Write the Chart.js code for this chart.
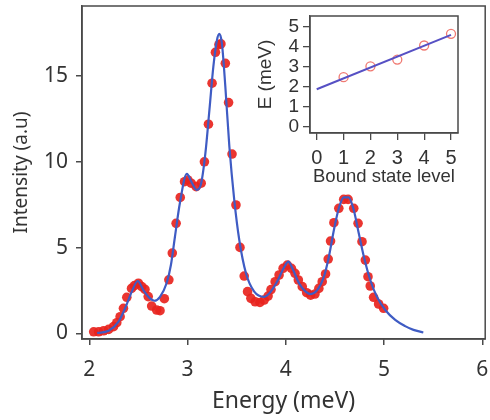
<!DOCTYPE html>
<html>
<head>
<meta charset="utf-8">
<script src="https://cdn.jsdelivr.net/npm/chart.js@4.4.1/dist/chart.umd.min.js"></script>
<style>
  body { margin: 0; background: #fff; }
  #wrap { position: relative; width: 490px; height: 420px; }
  #main { position: absolute; left: 0; top: 0; }
  #inset { position: absolute; left: 250px; top: 0; }
</style>
</head>
<body>
<div id="wrap">
  <canvas id="main" width="490" height="420"></canvas>
  <canvas id="inset" width="240" height="195"></canvas>
</div>
<script>
// measured spectrum (red dots)
const dotEnergy = [
  2.045, 2.095, 2.146, 2.197, 2.247, 2.28, 2.314, 2.348, 2.382, 2.43, 2.46, 2.50,
  2.534, 2.567, 2.60, 2.635, 2.686, 2.72, 2.764, 2.81, 2.845, 2.884, 2.926, 2.97,
  3.003, 3.037, 3.088, 3.139, 3.172, 3.213, 3.25, 3.284, 3.32, 3.34, 3.385, 3.418,
  3.453, 3.493, 3.534, 3.577, 3.611, 3.645, 3.689, 3.737, 3.78, 3.82, 3.85, 3.892,
  3.932, 3.973, 4.016, 4.057, 4.094, 4.128, 4.168, 4.213, 4.253, 4.297, 4.337, 4.371,
  4.405, 4.432, 4.456, 4.49, 4.54, 4.59, 4.634, 4.692, 4.736, 4.776, 4.81, 4.837,
  4.86, 4.894, 4.945, 4.996
];
const dotIntensity = [
  0.09, 0.09, 0.15, 0.23, 0.39, 0.62, 0.97, 1.46, 2.10, 2.62, 2.78, 2.92,
  2.72, 2.56, 2.14, 1.59, 1.36, 1.32, 2.02, 3.12, 4.68, 6.41, 7.92, 8.84,
  8.94, 8.75, 8.55, 8.75, 10.0, 12.19, 14.58, 16.38, 16.83, 16.87, 15.74, 13.45,
  10.45, 7.48, 5.01, 3.34, 2.43, 2.04, 1.84, 1.80, 1.94, 2.17, 2.55, 3.01,
  3.40, 3.79, 3.98, 3.79, 3.50, 3.11, 2.72, 2.37, 2.23, 2.29, 2.62, 3.01,
  3.46, 4.33, 5.38, 6.45, 7.29, 7.81, 7.81, 7.29, 6.41, 5.34, 4.27, 3.30,
  2.76, 2.10, 1.71, 1.46
];

// fitted curve (blue line)
const fitEnergy = [
  2.08, 2.197, 2.298, 2.365, 2.433, 2.493, 2.551, 2.618, 2.663, 2.72, 2.787, 2.831,
  2.872, 2.922, 2.993, 3.047, 3.094, 3.139, 3.182, 3.223, 3.263, 3.30, 3.324, 3.35,
  3.385, 3.426, 3.476, 3.527, 3.595, 3.679, 3.78, 3.84, 3.915, 3.983, 4.026, 4.067,
  4.135, 4.203, 4.253, 4.32, 4.388, 4.439, 4.49, 4.54, 4.59, 4.64, 4.692, 4.743,
  4.803, 4.86, 4.928, 5.013, 5.114, 5.215, 5.30, 5.40
];
const fitIntensity = [
  0.02, 0.15, 0.68, 1.46, 2.43, 3.05, 2.52, 2.04, 1.90, 2.13, 2.92, 3.98,
  5.63, 7.58, 9.29, 8.75, 8.36, 8.75, 10.5, 13.02, 15.55, 17.1, 17.45, 16.9,
  14.38, 10.88, 7.77, 5.44, 3.50, 2.43, 2.13, 2.38, 3.05, 3.85, 4.18, 3.79,
  2.92, 2.43, 2.29, 2.52, 3.30, 4.47, 6.02, 7.29, 7.93, 7.93, 7.19, 5.83,
  4.27, 3.11, 2.13, 1.36, 0.78, 0.42, 0.20, 0.05
];

const xTicks = [2, 3, 4, 5, 6];
const yTicks = [0, 5, 10, 15];

// inset: peak energy vs bound state level
const insetLevel = [1, 2, 3, 4, 5];
const insetE = [2.47, 3.01, 3.35, 4.05, 4.63];
const insetFitLevel = [0, 5];
const insetFitE = [1.87, 4.58];
const insetTicksX = [0, 1, 2, 3, 4, 5];
const insetTicksY = [0, 1, 2, 3, 4, 5];

const axisColor = '#4a4a4a';
const textColor = '#333';

const pairs = (xs, ys) => xs.map((x, i) => ({ x: x, y: ys[i] }));
const fixTicks = list => scale => { scale.ticks = list.map(v => ({ value: v })); };
// fixed scale size, no extra room for overhanging labels
const fixSize = (w, h) => scale => {
    if (w !== null) scale.width = w;
    if (h !== null) scale.height = h;
    scale.paddingLeft = 0;
    scale.paddingRight = 0;
    scale.paddingTop = 0;
    scale.paddingBottom = 0;
};

// draw the closed box round the plot area
const framePlugin = {
    id: 'frame',
    afterDraw(chart) {
        const a = chart.chartArea;
        const c = chart.ctx;
        c.save();
        c.strokeStyle = axisColor;
        c.lineWidth = 1.5;
        c.strokeRect(a.left, a.top, a.right - a.left, a.bottom - a.top);
        c.restore();
    }
};

new Chart(document.getElementById('main'), {
    type: 'scatter',
    data: {
        datasets: [
            {
                data: pairs(fitEnergy, fitIntensity),
                showLine: true,
                pointRadius: 0,
                borderColor: '#3f5cc4',
                borderWidth: 2.2,
                cubicInterpolationMode: 'monotone',
                order: 0
            },
            {
                data: pairs(dotEnergy, dotIntensity),
                pointRadius: 4.8,
                backgroundColor: 'rgba(232, 36, 30, 0.92)',
                borderWidth: 0,
                order: 1
            }
        ]
    },
    options: {
        responsive: false,
        animation: false,
        layout: { padding: { top: 6, right: 3 } },
        plugins: { legend: { display: false }, tooltip: { enabled: false } },
        scales: {
            x: {
                type: 'linear',
                min: 1.926,
                max: 6.03,
                afterBuildTicks: fixTicks(xTicks),
                afterFit: fixSize(null, 81),
                grid: { drawOnChartArea: false, tickLength: 6, color: axisColor, lineWidth: 1.5 },
                border: { color: axisColor, width: 1.5 },
                ticks: { color: textColor, padding: 12, autoSkip: false, maxRotation: 0, font: { family: 'Noto Sans', size: 21 } },
                title: {
                    display: true,
                    text: 'Energy (meV)',
                    color: textColor,
                    padding: { top: 0, bottom: 5 },
                    font: { family: 'Noto Sans', size: 23 }
                }
            },
            y: {
                type: 'linear',
                min: -0.33,
                max: 19.08,
                afterBuildTicks: fixTicks(yTicks),
                afterFit: fixSize(82, null),
                grid: { drawOnChartArea: false, tickLength: 6, color: axisColor, lineWidth: 1.5 },
                border: { color: axisColor, width: 1.5 },
                ticks: { color: textColor, padding: 8, autoSkip: false, font: { family: 'Noto Sans', size: 21 } },
                title: {
                    display: true,
                    text: 'Intensity (a.u)',
                    color: textColor,
                    padding: { top: 10, bottom: 0 },
                    font: { family: 'Noto Sans', size: 19 }
                }
            }
        }
    },
    plugins: [framePlugin]
});

new Chart(document.getElementById('inset'), {
    type: 'scatter',
    data: {
        datasets: [
            {
                data: pairs(insetFitLevel, insetFitE),
                showLine: true,
                pointRadius: 0,
                borderColor: '#5650c4',
                borderWidth: 2,
                order: 0
            },
            {
                data: pairs(insetLevel, insetE),
                pointRadius: 4.5,
                backgroundColor: 'rgba(0,0,0,0)',
                borderColor: '#f07a72',
                borderWidth: 1.3,
                order: 1
            }
        ]
    },
    options: {
        responsive: false,
        animation: false,
        layout: { padding: { top: 16, right: 32 } },
        plugins: { legend: { display: false }, tooltip: { enabled: false } },
        scales: {
            x: {
                type: 'linear',
                min: -0.25,
                max: 5.26,
                afterBuildTicks: fixTicks(insetTicksX),
                afterFit: fixSize(null, 62),
                grid: { drawOnChartArea: false, tickLength: 7, color: axisColor, lineWidth: 1.3 },
                border: { color: axisColor, width: 1.3 },
                ticks: { color: textColor, padding: 6, autoSkip: false, maxRotation: 0, font: { family: 'Liberation Sans', size: 20 } },
                title: {
                    display: true,
                    text: 'Bound state level',
                    color: textColor,
                    padding: { top: 0, bottom: 7 },
                    font: { family: 'Liberation Sans', size: 18.5 }
                }
            },
            y: {
                type: 'linear',
                min: -0.31,
                max: 5.52,
                afterBuildTicks: fixTicks(insetTicksY),
                afterFit: fixSize(60, null),
                grid: { drawOnChartArea: false, tickLength: 7, color: axisColor, lineWidth: 1.3 },
                border: { color: axisColor, width: 1.3 },
                ticks: { color: textColor, padding: 4, autoSkip: false, font: { family: 'Liberation Sans', size: 19 } },
                title: {
                    display: true,
                    text: 'E (meV)',
                    color: textColor,
                    padding: { top: 4, bottom: 0 },
                    font: { family: 'Liberation Sans', size: 19 }
                }
            }
        }
    },
    plugins: [framePlugin]
});
</script>
</body>
</html>
